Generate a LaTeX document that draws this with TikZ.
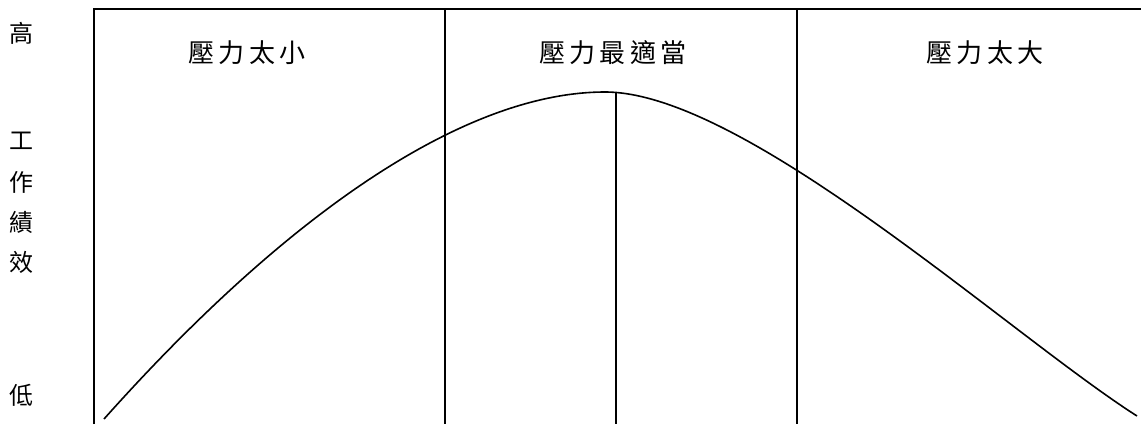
\documentclass[tikz,border=0pt]{standalone}
\usepackage{fontspec}
\usepackage{tikz}
\usetikzlibrary{calc}
\newfontfamily\cjk{Noto Sans CJK TC}
\newfontfamily\cjkwide[LetterSpace=16]{Noto Sans CJK TC}
\definecolor{InkBlack}{RGB}{0,0,0}
\begin{document}
\begin{tikzpicture}[x=0.5pt,y=-0.5pt]
      \useasboundingbox (0,0) rectangle (1141,424);
      % frame and zones
      \draw[line width=1.2pt,InkBlack] (94,424)--(94,9)--(1141,9);
      \draw[line width=1.2pt,InkBlack] (445,9)--(445,424);
      \draw[line width=1.2pt,InkBlack] (797,9)--(797,424);
      % performance curve
      \draw[line width=0.8pt,InkBlack] (104,419)
        .. controls (295,205) and (470,92) .. (605,92)
        .. controls (745,92) and (1010,335) .. (1137,416);
      \draw[line width=0.8pt,InkBlack] (616,93)--(616,424);
      % zone labels
      \node[font=\cjkwide\fontsize{13pt}{15pt}\selectfont] (low) at (247,53) {壓力太小};
      \node[font=\cjkwide\fontsize{13pt}{15pt}\selectfont] (best) at (613,53) {壓力最適當};
      \node[font=\cjkwide\fontsize{13pt}{15pt}\selectfont] (high) at (985,53) {壓力太大};
      % axis labels
      \node[font=\cjk\fontsize{12pt}{14pt}\selectfont] (top) at (22,33) {高};
      \node[font=\cjk\fontsize{12pt}{14pt}\selectfont] (w1) at (22,141) {工};
      \node[font=\cjk\fontsize{12pt}{14pt}\selectfont] (w2) at (22,182) {作};
      \node[font=\cjk\fontsize{12pt}{14pt}\selectfont] (w3) at (22,222) {績};
      \node[font=\cjk\fontsize{12pt}{14pt}\selectfont] (w4) at (22,262) {效};
      \node[font=\cjk\fontsize{12pt}{14pt}\selectfont] (bottom) at (22,395) {低};
    \end{tikzpicture}
\end{document}
